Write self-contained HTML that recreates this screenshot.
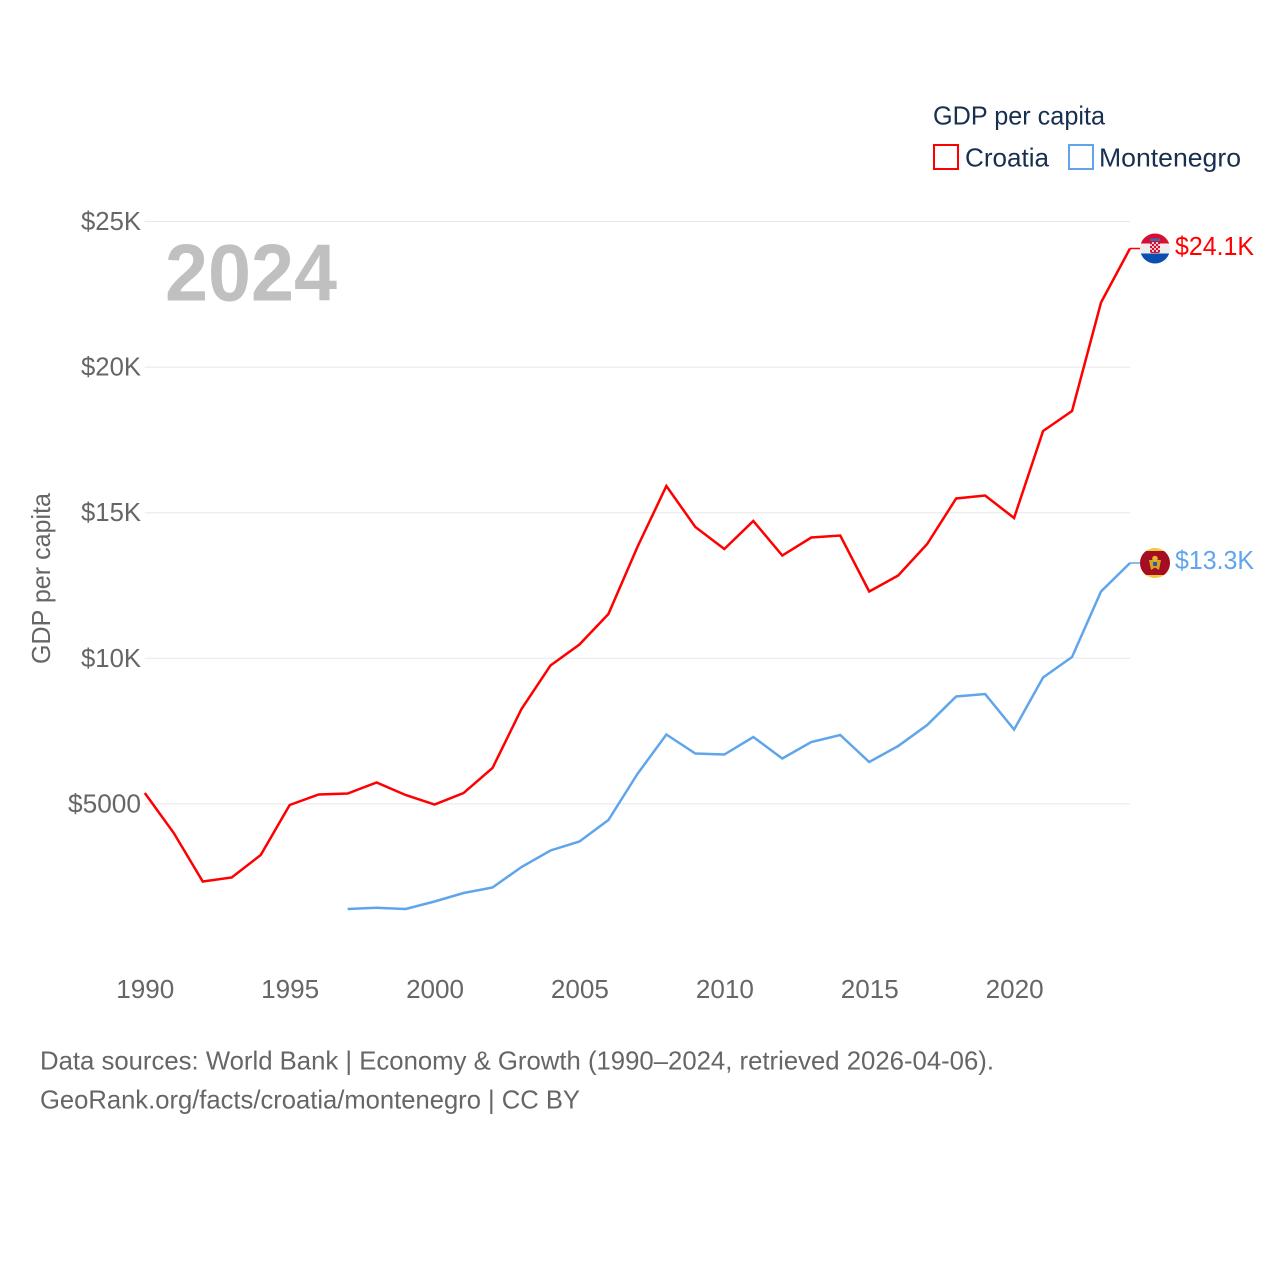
<!DOCTYPE html>
<html>
<head>
<meta charset="utf-8">
<title>GDP per capita: Croatia and Montenegro</title>
<style>
html,body{margin:0;padding:0;background:#fff;width:1280px;height:1280px;overflow:hidden}
svg{display:block}
text{font-family:"Liberation Sans",sans-serif}
</style>
</head>
<body>
<svg id="chart" width="1280" height="1280" viewBox="0 0 1280 1280" xmlns="http://www.w3.org/2000/svg">
  <defs>
    <clipPath id="clip-hr"><circle cx="1155" cy="248.5" r="15"/></clipPath>
    <clipPath id="clip-me"><circle cx="1155" cy="563" r="15"/></clipPath>
  </defs>
  <g id="grid"></g>
  <g id="yticks"></g>
  <g id="xticks"></g>
  <text transform="translate(50,664) rotate(-90)" font-size="26" fill="#666666" textLength="171" lengthAdjust="spacingAndGlyphs">GDP per capita</text>
  <text x="165" y="300.500" font-size="81" font-weight="700" fill="#c0c0c0" textLength="172" lengthAdjust="spacingAndGlyphs">2024</text>
  <g id="series"></g>
  <g clip-path="url(#clip-hr)">
    <rect x="1140" y="233" width="30" height="10.5" fill="#d8102f"/>
    <rect x="1140" y="243.5" width="30" height="10" fill="#eeeeee"/>
    <rect x="1140" y="253.5" width="30" height="10.5" fill="#0b4fb0"/>
    <rect x="1150" y="240" width="10" height="13" rx="2" fill="#d8102f"/>
    <rect x="1152" y="242" width="2" height="2" fill="#f4c6cc"/><rect x="1156" y="242" width="2" height="2" fill="#f4c6cc"/>
    <rect x="1154" y="244" width="2" height="2" fill="#f4c6cc"/><rect x="1150" y="244" width="2" height="2" fill="#f4c6cc"/><rect x="1158" y="244" width="2" height="2" fill="#f4c6cc"/>
    <rect x="1152" y="246" width="2" height="2" fill="#f4c6cc"/><rect x="1156" y="246" width="2" height="2" fill="#f4c6cc"/>
    <rect x="1154" y="248" width="2" height="2" fill="#f4c6cc"/><rect x="1150" y="248" width="2" height="2" fill="#f4c6cc"/><rect x="1158" y="248" width="2" height="2" fill="#f4c6cc"/>
    <rect x="1152" y="250" width="2" height="2" fill="#f4c6cc"/><rect x="1156" y="250" width="2" height="2" fill="#f4c6cc"/>
    <rect x="1150" y="238.5" width="10" height="2.5" fill="#2f6fc4"/>
  </g>
  <g clip-path="url(#clip-me)">
    <rect x="1140" y="548" width="30" height="30" fill="#f2c83c"/>
    <rect x="1140" y="551" width="30" height="24" fill="#a50d22"/>
    <path d="M1149 560 L1161 560 L1159 570 L1155 567.500 L1151 570 Z" fill="#d9a520"/>
    <circle cx="1155" cy="558.500" r="2.800" fill="#e3b52b"/>
    <rect x="1153" y="562" width="4" height="4" fill="#2b5aa8"/>
  </g>
  <g id="endlabels"></g>
  <g>
    <text x="933" y="124.500" font-size="26" fill="#18304f" textLength="172" lengthAdjust="spacingAndGlyphs">GDP per capita</text>
    <g>
      <rect x="934" y="145" width="24" height="24" fill="#fff" stroke="#ff0000" stroke-width="2"/>
      <text x="965" y="166.500" font-size="26" fill="#18304f" textLength="84" lengthAdjust="spacingAndGlyphs">Croatia</text>
    </g>
    <g>
      <rect x="1069" y="145" width="24" height="24" fill="#fff" stroke="#60a5ec" stroke-width="2"/>
      <text x="1099" y="166.500" font-size="26" fill="#18304f" textLength="142" lengthAdjust="spacingAndGlyphs">Montenegro</text>
    </g>
  </g>
  <text x="40" y="1069.500" font-size="26" fill="#666666" textLength="954" lengthAdjust="spacingAndGlyphs">Data sources: World Bank | Economy &amp; Growth (1990–2024, retrieved 2026-04-06).</text>
  <text x="40" y="1108.500" font-size="26" fill="#666666" textLength="540" lengthAdjust="spacingAndGlyphs">GeoRank.org/facts/croatia/montenegro | CC BY</text>
</svg>
<script>
const years = [1990,1991,1992,1993,1994,1995,1996,1997,1998,1999,2000,2001,2002,2003,2004,2005,2006,2007,2008,2009,2010,2011,2012,2013,2014,2015,2016,2017,2018,2019,2020,2021,2022,2023,2024];
const croatia = [5374,4000,2335,2473,3245,4962,5323,5357,5735,5306,4979,5374,6233,8259,9753,10474,11521,13822,15917,14509,13753,14715,13530,14148,14217,12294,12843,13925,15488,15590,14818,17806,18493,22218,24073];
const montenegro = [null,null,null,null,null,null,null,1391,1432,1391,1648,1940,2129,2833,3400,3709,4447,6027,7383,6731,6696,7297,6559,7126,7366,6439,6988,7709,8688,8774,7555,9341,10045,12294,13272];
const yTickValues = [5000,10000,15000,20000,25000];
const yTickLabels = ["$5000","$10K","$15K","$20K","$25K"];
const xTickValues = [1990,1995,2000,2005,2010,2015,2020];
const endLabels = ["$24.1K","$13.3K"];

const NS = "http://www.w3.org/2000/svg";
function xScale(year){ return 144.8 + (year - 1990) * (1130 - 144.8) / 34; }
function yScale(v){ return 949.5 - v * 0.02912; }
function make(tag, parent, attrs, content){
  const el = document.createElementNS(NS, tag);
  Object.keys(attrs).forEach(function(k){ el.setAttribute(k, attrs[k]); });
  if (content !== undefined) el.textContent = content;
  document.getElementById(parent).appendChild(el);
  return el;
}
function pathFor(values){
  let d = "";
  values.forEach(function(v, i){
    if (v === null) return;
    d += (d ? "L" : "M") + xScale(years[i]).toFixed(2) + " " + yScale(v).toFixed(2);
  });
  return d;
}

yTickValues.forEach(function(v, i){
  const line = make("line", "grid", {x1:xScale(1990), x2:1130, y1:yScale(v), y2:yScale(v), stroke:"#e8e8e8", "stroke-width":1});
  
  
  const label = yTickLabels[i];
  const tick = make("text", "yticks", {x:141, y:yScale(v)+8.5, "text-anchor":"end", "font-size":26, fill:"#666666", textLength: label.length === 5 ? 73 : 60, lengthAdjust:"spacingAndGlyphs"}, label);
  
  
});

xTickValues.forEach(function(y){
  const tick = make("text", "xticks", {x:xScale(y)+0.5, y:998, "text-anchor":"middle", "font-size":26, fill:"#666666", textLength:58, lengthAdjust:"spacingAndGlyphs"}, String(y));
  
  
});

const croatiaLine = make("path", "series", {d:pathFor(croatia), fill:"none", stroke:"#ff0000", "stroke-width":2.5, "stroke-linejoin":"miter"});


const montenegroLine = make("path", "series", {d:pathFor(montenegro), fill:"none", stroke:"#60a5ec", "stroke-width":2.5, "stroke-linejoin":"miter"});



const lastCroatia = croatia[croatia.length - 1];
const lastMontenegro = montenegro[montenegro.length - 1];
const croatiaLeader = make("line", "series", {x1:1130, x2:1140, y1:yScale(lastCroatia), y2:yScale(lastCroatia), stroke:"#ff0000", "stroke-width":1.5});


const montenegroLeader = make("line", "series", {x1:1130, x2:1140, y1:yScale(lastMontenegro), y2:yScale(lastMontenegro), stroke:"#60a5ec", "stroke-width":1.5});



const croatiaEnd = make("text", "endlabels", {x:1175, y:yScale(lastCroatia)+6.5, "font-size":26, fill:"#ff0000", textLength:79, lengthAdjust:"spacingAndGlyphs"}, endLabels[0]);


const montenegroEnd = make("text", "endlabels", {x:1175, y:yScale(lastMontenegro)+6, "font-size":26, fill:"#60a5ec", textLength:79, lengthAdjust:"spacingAndGlyphs"}, endLabels[1]);


</script>
</body>
</html>
